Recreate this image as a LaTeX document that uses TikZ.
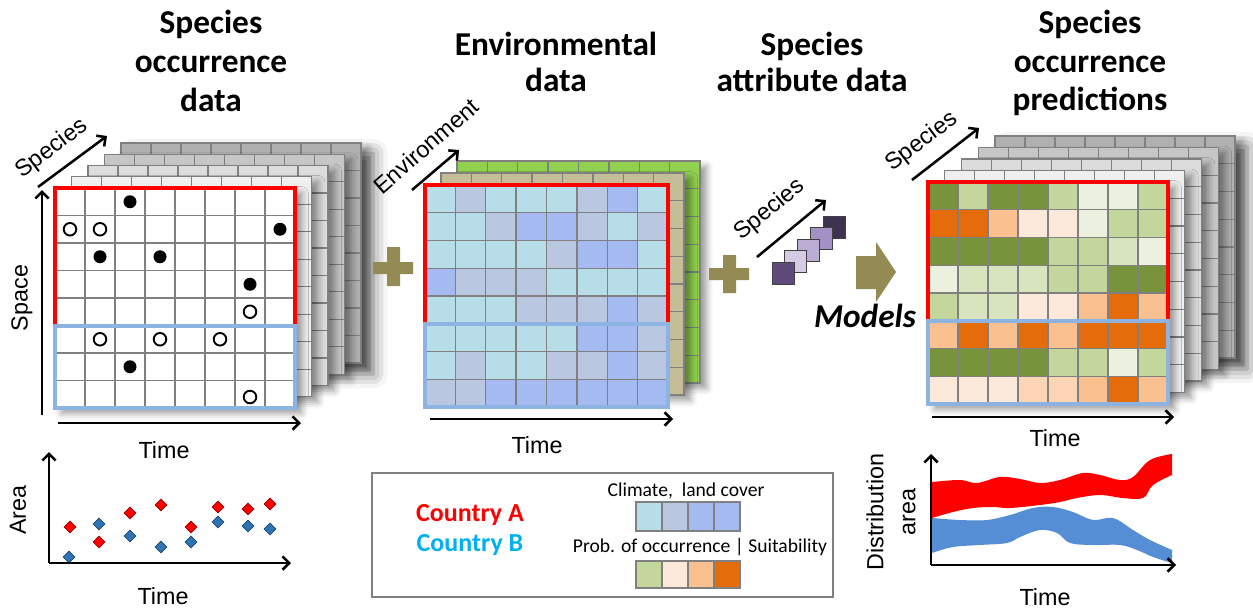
\documentclass[tikz,border=0pt]{standalone}
\usepackage{fontspec}
\setmainfont{Liberation Sans}
\newfontfamily\calibri{Carlito}
\usetikzlibrary{
    positioning,
    arrows.meta,
    shapes.geometric,
    shadows.blur
}

% cell colours
\definecolor{envA}{HTML}{B7DEE8}
\definecolor{envB}{HTML}{B9C8E0}
\definecolor{envC}{HTML}{A6BAF2}
\definecolor{prD}{HTML}{77933C}
\definecolor{prL}{HTML}{C3D69B}
\definecolor{prM}{HTML}{D7E4BD}
\definecolor{prV}{HTML}{EBF1DE}
\definecolor{prQ}{HTML}{FDE9D9}
\definecolor{prR}{HTML}{FCD5B5}
\definecolor{prP}{HTML}{FAC090}
\definecolor{prO}{HTML}{E46C0A}
\definecolor{gray1}{HTML}{EFEFEF}
\definecolor{gray2}{HTML}{DCDCDC}
\definecolor{gray3}{HTML}{C6C6C6}
\definecolor{gray4}{HTML}{B0B0B0}
\definecolor{tanlayer}{HTML}{C4BD97}
\definecolor{greenlayer}{HTML}{92D050}
\definecolor{pu0}{HTML}{604A7B}
\definecolor{pu1}{HTML}{D5CCE4}
\definecolor{pu2}{HTML}{BBACD4}
\definecolor{pu3}{HTML}{A391C6}
\definecolor{pu4}{HTML}{3F3151}
\definecolor{olivemark}{HTML}{948A54}
\definecolor{frameA}{HTML}{FF0000}
\definecolor{frameB}{HTML}{8DB3E2}
\definecolor{textB}{HTML}{00B0F0}
\definecolor{gridgray}{HTML}{808080}
\definecolor{dotred}{HTML}{FF0000}
\definecolor{dotblue}{HTML}{2E75B6}
\definecolor{bandblue}{HTML}{558ED5}

% 8x8 cell lines: left, top, width, height
\newcommand{\gridlines}[4]{%
  \foreach \gi in {1,...,7}{
    \draw[cellline] ({#1+\gi*(#3)/8},#2) -- ++(0,#4);
    \draw[cellline] (#1,{#2+\gi*(#4)/8}) -- ++(#3,0);
  }}
% one layer of a stack: left, top, width, height, fill
\newcommand{\stacklayer}[5]{%
  \path[layershadow, fill=#5] (#1,#2) rectangle ++(#3,#4);
  \gridlines{#1}{#2}{#3}{#4}
  \draw[layerframe] (#1,#2) rectangle ++(#3,#4);}

\begin{document}
\begin{tikzpicture}[
    x=0.75pt, y=-0.75pt,
    cellline/.style={draw=gridgray, line width=1.1pt},
    layerframe/.style={draw=gridgray, line width=1pt},
    layershadow/.style={blur shadow={shadow xshift=5pt, shadow yshift=-4pt,
        shadow blur radius=5pt, shadow opacity=40}},
    stackshadow/.style={blur shadow={shadow xshift=9pt, shadow yshift=-8pt,
        shadow blur radius=11pt, shadow opacity=60}},
    frameA/.style={draw=frameA, line width=3pt},
    frameB/.style={draw=frameB, line width=3pt},
    axis/.style={line width=1.9pt, -{Straight Barb[length=5pt, width=10pt]}},
    title/.style={font=\calibri\bfseries\fontsize{25}{29}\selectfont, align=center},
    axislbl/.style={font=\fontsize{17.5}{21}\selectfont, inner sep=0pt},
    legendlbl/.style={font=\calibri\fontsize{14.7}{17}\selectfont, inner sep=0pt},
    countrylbl/.style={font=\calibri\bfseries\fontsize{19.5}{23}\selectfont, inner sep=0pt},
    fulldot/.style={fill=black},
    opendot/.style={fill=white, draw=black, line width=1.4pt},
    reddia/.style={diamond, fill=dotred, draw=red!60!black, line width=0.5pt,
        minimum size=9pt, inner sep=0pt},
    bluedia/.style={diamond, fill=dotblue, draw=dotblue!60!black, line width=0.5pt,
        minimum size=9pt, inner sep=0pt},
    attrbox/.style={draw=black!75, line width=0.6pt}
]
\useasboundingbox (0,0) rectangle (1253,610);

% Titles
\node[title] (title_occ) at (211,61) {Species\\occurrence\\data};
\node[title, font=\calibri\bfseries\fontsize{25}{26.5}\selectfont] (title_env) at (556,62) {Environmental\\data};
\node[title, font=\calibri\bfseries\fontsize{25}{26.5}\selectfont] (title_attr) at (812,62) {Species\\attribute data};
\node[title] (title_pred) at (1090,63) {Species\\occurrence\\predictions};

% ------------------------- Species occurrence data -------------------------
\path[stackshadow, fill=white] (121,143) rectangle (361,363);
\foreach \k/\col in {4/gray4,3/gray3,2/gray2,1/gray1}
  \stacklayer{55+16.5*\k}{188-11.25*\k}{240}{220}{\col};
\stacklayer{55}{188}{240}{220}{white}
% occurrences (column/row)
\foreach \c/\r in {2/0,7/1,1/2,3/2,6/3,2/6}
  \fill[fulldot] (55+30*\c+15,188+27.5*\r+13.75) circle (6.5);
\foreach \c/\r in {0/1,1/1,6/4,1/5,3/5,5/5}
  \draw[opendot] (55+30*\c+15,188+27.5*\r+13.75) circle (6.3);
\draw[opendot] (250,397) circle (6.3);
\draw[frameA] (55,326) -- (55,188) -- (295,188) -- (295,326);
\draw[frameB] (55,326) rectangle (295,408);

\coordinate (occ_sp0) at (38,187);
\coordinate (occ_sp1) at (107,136);
\coordinate (occ_y0) at (42,415);
\coordinate (occ_y1) at (42,190);
\coordinate (occ_t0) at (58,423);
\coordinate (occ_t1) at (301,423);
\draw[axis] (occ_sp0) -- (occ_sp1);
\draw[axis] (occ_y0) -- (occ_y1);
\draw[axis] (occ_t0) -- (occ_t1);
\node[axislbl, rotate=37] (occ_sp_lbl) at (52,149) {Species};
\node[axislbl, rotate=90] (occ_space_lbl) at (22,298) {Space};
\node[axislbl] (occ_time_lbl) at (164,450) {Time};

% --------------------------- Environmental data ----------------------------
\stacklayer{457}{161}{243}{222}{greenlayer}
\stacklayer{441}{173}{243}{222}{tanlayer}
\foreach \cells [count=\r from 0] in {
    {A,B,A,A,A,B,C,A},{A,A,B,C,C,B,A,B},{A,A,A,A,B,C,C,A},{C,B,B,B,A,A,A,A},
    {A,A,A,B,B,B,C,B},{A,A,A,A,A,C,C,B},{A,B,A,A,B,B,C,B},{B,B,C,C,C,C,C,C}}
  \foreach \c [count=\k from 0] in \cells
    \fill[env\c] (425+30.375*\k,185+27.75*\r) rectangle ++(30.375,27.75);
\gridlines{425}{185}{243}{222}
\draw[frameA] (425,324) -- (425,185) -- (668,185) -- (668,324);
\draw[frameB] (425,324) rectangle (668,407);

\coordinate (env_e0) at (412,190);
\coordinate (env_e1) at (459,150);
\coordinate (env_t0) at (430,419);
\coordinate (env_t1) at (673,419);
\draw[axis] (env_e0) -- (env_e1);
\draw[axis] (env_t0) -- (env_t1);
\node[axislbl, rotate=41] (env_e_lbl) at (426,146) {Environment};
\node[axislbl] (env_time_lbl) at (537,445) {Time};

% plus signs
\fill[olivemark] (373,262) rectangle (413,274) (387,247) rectangle (400,286);
\fill[olivemark] (709,268) rectangle (749,280) (723,255) rectangle (736,293);

% ------------------------- Species attribute data --------------------------
\foreach \k/\col in {4/pu4,3/pu3,2/pu2,1/pu1,0/pu0}
  \filldraw[attrbox, fill=\col] (772+12.75*\k,262-11.5*\k) rectangle ++(22,22);
\coordinate (attr_s0) at (757,257);
\coordinate (attr_s1) at (826,200);
\draw[axis] (attr_s0) -- (attr_s1);
\node[axislbl, rotate=39] (attr_sp_lbl) at (770,210) {Species};

% model arrow
\fill[olivemark] (856,256) -- (876,256) -- (876,242) -- (896,272) -- (876,302)
  -- (876,289) -- (856,289) -- cycle;
\node[font=\calibri\bfseries\itshape\fontsize{25}{29}\selectfont, inner sep=0pt]
  (models) at (865,316) {Models};

% ----------------------------- Predictions ---------------------------------
\path[stackshadow, fill=white] (995,136) rectangle (1235,358);
\foreach \k/\col in {4/gray4,3/gray3,2/gray2,1/gray1}
  \stacklayer{928+16.75*\k}{182-11.5*\k}{240}{222}{\col};
\path[layershadow, fill=white] (928,182) rectangle (1168,404);
\foreach \cells [count=\r from 0] in {
    {D,L,D,D,L,V,V,L},{O,O,P,Q,Q,V,L,L},{D,D,D,D,L,L,M,V},{V,M,M,M,L,L,D,D},
    {L,M,M,Q,Q,P,O,P},{P,O,P,O,P,O,O,O},{D,D,D,D,L,L,V,L},{Q,Q,Q,R,R,P,O,P}}
  \foreach \c [count=\k from 0] in \cells
    \fill[pr\c] (928+30*\k,182+27.75*\r) rectangle ++(30,27.75);
\gridlines{928}{182}{240}{222}
\draw[frameA] (928,321) -- (928,182) -- (1168,182) -- (1168,321);
\draw[frameB] (928,321) rectangle (1168,404);

\coordinate (pred_sp0) at (912,180);
\coordinate (pred_sp1) at (979,128);
\coordinate (pred_t0) at (932,417);
\coordinate (pred_t1) at (1174,417);
\draw[axis] (pred_sp0) -- (pred_sp1);
\draw[axis] (pred_t0) -- (pred_t1);
\node[axislbl, rotate=37] (pred_sp_lbl) at (922,142) {Species};
\node[axislbl] (pred_time_lbl) at (1055,438) {Time};

% ------------------------------ Area plot ----------------------------------
\coordinate (area_o) at (49,563);
\coordinate (area_y) at (49,452);
\coordinate (area_x) at (291,563);
\foreach \px/\py [count=\i] in {70/527,99/542,130/513,161/505,191/527,218/507,248/509,270/504}
  \node[reddia] (ra\i) at (\px,\py) {};
\foreach \px/\py [count=\i] in {69/557,99/524,130/536,161/547,191/542,218/522,248/526,270/529}
  \node[bluedia] (ba\i) at (\px,\py) {};
\draw[axis] (area_o) -- (area_y);
\draw[axis] (area_o) -- (area_x);
\node[axislbl, rotate=90] (area_lbl) at (18,510) {Area};
\node[axislbl] (area_time_lbl) at (163,596) {Time};

% -------------------------------- Legend -----------------------------------
\draw[draw=gridgray, line width=0.9pt] (372,473) rectangle (833,597);
\node[countrylbl, text=frameA] (country_a) at (470,515) {Country A};
\node[countrylbl, text=textB] (country_b) at (470,545) {Country B};
\node[legendlbl] (climate_lbl) at (686,491) {Climate, \ land cover};
\node[legendlbl] (prob_lbl) at (700,547) {Prob. of occurrence | Suitability};
\foreach \col [count=\k from 0] in {envA,envB,envC,envC}
  \filldraw[draw=gridgray, line width=1pt, fill=\col] (636+26*\k,502) rectangle ++(26,29);
\foreach \col [count=\k from 0] in {prL,prQ,prP,prO}
  \filldraw[draw=gridgray, line width=1pt, fill=\col] (636+26*\k,561) rectangle ++(26,27);

% --------------------------- Distribution plot -----------------------------
\fill[bandblue] plot[smooth, tension=0.6] coordinates {(932,518) (960,520) (987,520)
    (1010,515) (1033,508) (1053,507) (1073,512) (1093,520) (1113,518) (1133,530)
    (1150,540) (1172,550)}
  -- plot[smooth, tension=0.6] coordinates {(1172,563) (1153,557) (1137,550)
    (1120,545) (1093,545) (1070,543) (1057,533) (1040,530) (1020,537) (1007,543)
    (980,545) (953,547) (932,553)} -- cycle;
\fill[red] plot[smooth, tension=0.6] coordinates {(932,482) (960,480) (977,483)
    (1000,477) (1020,479) (1040,483) (1060,480) (1083,473) (1100,475) (1120,480)
    (1133,477) (1150,460) (1172,454)}
  -- plot[smooth, tension=0.6] coordinates {(1172,475) (1153,485) (1143,498)
    (1123,498) (1100,495) (1077,498) (1060,502) (1040,505) (1010,508) (993,507)
    (973,508) (953,512) (932,518)} -- cycle;
\coordinate (dist_o) at (931,565);
\coordinate (dist_y) at (931,454);
\coordinate (dist_x) at (1176,565);
\draw[axis] (dist_o) -- (dist_y);
\draw[axis] (dist_o) -- (dist_x);
\node[axislbl, rotate=90, align=center, font=\fontsize{17.5}{24}\selectfont]
  (dist_lbl) at (891,512) {Distribution\\area};
\node[axislbl] (dist_time_lbl) at (1045,597) {Time};

\end{tikzpicture}
\end{document}
